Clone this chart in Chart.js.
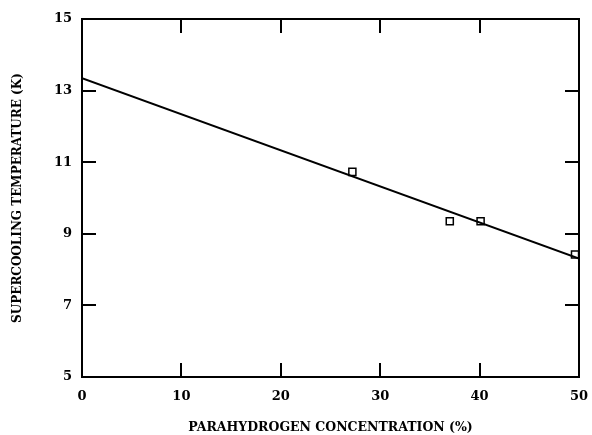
<!DOCTYPE html>
<html>
<head>
<meta charset="utf-8">
<script src="https://cdn.jsdelivr.net/npm/chart.js@4/dist/chart.umd.min.js"></script>
<style>
  html, body { margin:0; padding:0; background:#fff; }
  #wrap { width:592px; height:435px; }
</style>
</head>
<body>
<div id="wrap"><canvas id="chart" width="592" height="435"></canvas></div>
<script>
// measured points (parahydrogen %, supercooling K)
const concX = [27.2, 37.0, 40.1, 49.6];
const tempY = [10.73, 9.35, 9.35, 8.42];

// fitted line end points
const fitX = [0, 50];
const fitY = [13.35, 8.31];

const xTicks = [0, 10, 20, 30, 40, 50];
const yTicks = [5, 7, 9, 11, 13, 15];

const FONT = 'DejaVu Serif';

// frame + inward ticks on all four sides
const frameTicks = {
  id: 'frameTicks',
  afterDraw(chart){
    const {ctx, chartArea:a, scales:{x, y}} = chart;
    const len = 14;
    ctx.save();
    ctx.strokeStyle = '#000';
    ctx.lineWidth = 2;
    ctx.strokeRect(a.left, a.top, a.right - a.left, a.bottom - a.top);
    ctx.beginPath();
    xTicks.slice(1, -1).forEach(v=>{
      const px = Math.round(x.getPixelForValue(v));
      ctx.moveTo(px, a.bottom); ctx.lineTo(px, a.bottom - len);
      ctx.moveTo(px, a.top); ctx.lineTo(px, a.top + len);
    });
    yTicks.slice(1, -1).forEach(v=>{
      const py = Math.round(y.getPixelForValue(v));
      ctx.moveTo(a.left, py); ctx.lineTo(a.left + len, py);
      ctx.moveTo(a.right, py); ctx.lineTo(a.right - len, py);
    });
    ctx.stroke();
    ctx.restore();
  }
};

new Chart(document.getElementById('chart'), {
  type: 'scatter',
  data: {
    datasets: [
      {
        type: 'line',
        data: fitX.map((v,i)=>({x:v, y:fitY[i]})),
        borderColor: '#000',
        borderWidth: 2,
        pointRadius: 0,
        fill: false
      },
      {
        data: concX.map((v,i)=>({x:v, y:tempY[i]})),
        pointStyle: 'rect',
        pointRadius: 5,
        backgroundColor: '#fff',
        borderColor: '#000',
        borderWidth: 1.5
      }
    ]
  },
  options: {
    responsive: false,
    animation: false,
    layout: { padding: { left: 0, top: 19, right: 13, bottom: 0 } },
    plugins: { legend: { display:false }, tooltip: { enabled:false } },
    scales: {
      x: {
        type: 'linear', min: 0, max: 50,
        afterBuildTicks: s => { s.ticks = xTicks.map(v=>({value:v})); },
        afterFit: s => { s.height = 58; s.paddingLeft = 0; s.paddingRight = 0; },
        grid: { display:false, drawTicks:false },
        border: { display:false },
        ticks: { color:'#000', padding: 12, font:{ family:FONT, size:13, weight:'bold' } },
        title: { display:true, text:'PARAHYDROGEN CONCENTRATION (%)', color:'#000',
                 padding:{top:11, bottom:0}, font:{ family:FONT, size:12.5, weight:'bold' } }
      },
      y: {
        type: 'linear', min: 5, max: 15,
        afterBuildTicks: s => { s.ticks = yTicks.map(v=>({value:v})); },
        afterFit: s => { s.width = 82; s.paddingTop = 0; s.paddingBottom = 0; },
        grid: { display:false, drawTicks:false },
        border: { display:false },
        ticks: { color:'#000', padding: 10, font:{ family:FONT, size:13, weight:'bold' } },
        title: { display:true, text:'SUPERCOOLING TEMPERATURE (K)', color:'#000',
                 padding:{top:11, bottom:0}, font:{ family:FONT, size:12, weight:'bold' } }
      }
    }
  },
  plugins: [frameTicks]
});
</script>
</body>
</html>
